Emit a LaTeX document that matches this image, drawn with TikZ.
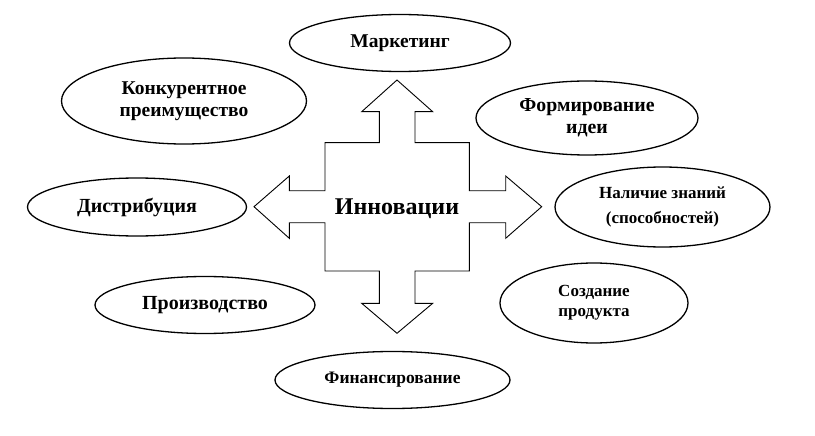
\documentclass[tikz,border=0pt]{standalone}
\usepackage{fontspec}
\setmainfont{Liberation Serif}
\usetikzlibrary{shapes.geometric}
\begin{document}
\begin{tikzpicture}[x=1pt,y=-1pt,
  oval/.style={draw, line width=1.3pt, ellipse, inner sep=0pt, align=center, font=\bfseries},
  bigarrow/.style={draw, line width=0.9pt, line join=miter}]
\useasboundingbox (0,0) rectangle (815,436);
\fill[white] (0,0) rectangle (815,436);
% cross arrow
\draw[bigarrow] (397,80) -- (432.7,111.7) -- (415,111.7) -- (415,142.7) -- (469.3,142.7) -- (469.3,190.7) -- (505.7,190.7) -- (505.7,176) -- (541.7,206.7) -- (505.7,238.3) -- (505.7,222.7) -- (469.3,222.7) -- (469.3,271) -- (415,271) -- (415,303.3) -- (432.7,303.3) -- (397,333.3) -- (361.7,303.3) -- (379.3,303.3) -- (379.3,271) -- (325,271) -- (325,222.7) -- (289.3,222.7) -- (289.3,238.3) -- (254,206.7) -- (289.3,176) -- (289.3,190.7) -- (325,190.7) -- (325,142.7) -- (379.3,142.7) -- (379.3,111.7) -- (361.7,111.7) -- cycle;
\node[font=\bfseries\fontsize{24}{28}\selectfont] (innov) at (397,209) {Инновации};
% ovals
\node[oval, minimum width=221pt, minimum height=57pt, font=\bfseries\fontsize{19.5}{22}\selectfont] (mark) at (400,43) {Маркетинг};
\node[oval, minimum width=245pt, minimum height=86pt, font=\bfseries\fontsize{19.5}{21.5}\selectfont] (konk) at (184,101) {Конкурентное\\преимущество};
\node[oval, minimum width=222pt, minimum height=74pt, font=\bfseries\fontsize{19.8}{22}\selectfont] (form) at (587,118) {Формирование\\идеи};
\node[oval, minimum width=219pt, minimum height=58pt, font=\bfseries\fontsize{20}{22}\selectfont] (distr) at (137,207) {Дистрибуция};
\node[oval, minimum width=215pt, minimum height=80pt, font=\bfseries\fontsize{17}{25}\selectfont] (nal) at (662.5,207) {Наличие знаний\\(способностей)};
\node[oval, minimum width=220pt, minimum height=57pt, font=\bfseries\fontsize{20}{22}\selectfont] (proizv) at (205,305) {Производство};
\node[oval, minimum width=188pt, minimum height=80pt, font=\bfseries\fontsize{17}{20}\selectfont] (sozd) at (594,303) {Создание\\продукта};
\node[oval, minimum width=235pt, minimum height=57pt, font=\bfseries\fontsize{17.5}{18}\selectfont] (fin) at (392.5,380) {Финансирование};
\end{tikzpicture}
\end{document}
